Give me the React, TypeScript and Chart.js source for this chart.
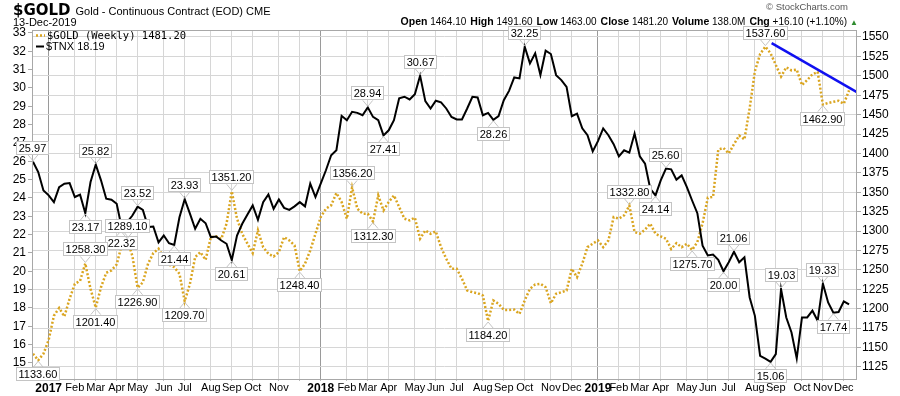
import React, { useEffect, useRef } from "react";
import { Chart, registerables } from "chart.js";
Chart.register(...registerables);

// Weekly closes, week 0 = 16-Dec-2016 ... week 156 = 13-Dec-2019
const tnx: number[] = [
  25.97, 25.41, 24.41, 24.14, 23.77, 24.59, 24.78, 24.81, 24.05, 24.18,
  23.17, 24.87, 25.82, 24.96, 23.96, 23.90, 23.68, 22.32, 22.68, 23.04,
  23.52, 23.35, 22.41, 22.44, 21.58, 21.95, 21.53, 21.44, 22.95, 23.93,
  23.14, 22.32, 22.86, 22.62, 21.86, 21.90, 21.68, 21.50, 20.61, 21.95,
  22.59, 23.10, 23.59, 22.81, 23.77, 24.19, 23.41, 23.92, 23.46, 23.35,
  23.54, 23.77, 23.54, 24.78, 24.05, 24.78, 25.51, 26.33, 26.60, 28.48,
  28.24, 28.70, 28.64, 28.51, 28.94, 28.42, 28.24, 27.41, 27.69, 28.24,
  29.43, 29.52, 29.37, 29.66, 30.67, 29.28, 28.88, 29.30, 29.21, 28.88,
  28.42, 28.28, 28.28, 28.88, 29.52, 29.48, 28.51, 28.64, 28.26, 28.46,
  29.33, 29.84, 30.57, 30.52, 32.25, 31.34, 31.89, 30.70, 32.03, 31.85,
  30.70, 30.43, 30.06, 28.46, 28.60, 27.80, 27.42, 26.54, 27.10, 27.79,
  27.42, 26.93, 26.27, 26.60, 26.47, 27.51, 26.27, 25.87, 24.50, 24.14,
  24.96, 25.60, 25.56, 25.00, 25.23, 24.59, 23.86, 23.17, 21.40, 20.86,
  20.91, 20.62, 20.00, 20.49, 21.06, 20.49, 20.76, 18.57, 17.57, 15.39,
  15.24, 15.06, 15.48, 19.03, 17.48, 16.66, 15.25, 17.48, 17.48, 17.85,
  17.30, 19.33, 18.30, 17.74, 17.78, 18.36, 18.19,
];

const gold: number[] = [
  1142, 1133.6, 1142, 1160, 1191, 1201, 1190, 1213, 1232, 1236,
  1258.3, 1225.6, 1201.4, 1227.7, 1246.3, 1249.3, 1257, 1283, 1289.1, 1268,
  1226.9, 1234, 1258, 1271.6, 1277.3, 1266.5, 1256.6, 1253.5, 1245, 1209.7,
  1232, 1266.5, 1272.9, 1263, 1292.3, 1293.2, 1290, 1309.5, 1351.2, 1316,
  1296.6, 1283.7, 1271.6, 1300.9, 1279.3, 1270.8, 1267.3, 1272.9, 1292.3, 1288,
  1281.5, 1248.4, 1258, 1275, 1296.6, 1318, 1328.9, 1333.2, 1349, 1337.4,
  1316, 1356.2, 1328.9, 1322.4, 1322.4, 1312.3, 1346, 1326.7, 1337.4, 1346,
  1331, 1316, 1313.8, 1317.3, 1290.2, 1300.9, 1296.6, 1299.6, 1279.3, 1264.4,
  1251.5, 1251.5, 1238.6, 1223.5, 1221.3, 1220, 1217, 1184.2, 1210.6, 1206.3,
  1198.5, 1198.5, 1198.9, 1193.4, 1210.6, 1225.7, 1231.2, 1232.1, 1227.7, 1207,
  1219.2, 1221.3, 1223.5, 1251.5, 1240.6, 1258, 1279.3, 1283.7, 1288, 1279.3,
  1288, 1318, 1316, 1320.3, 1332.8, 1298.7, 1296.6, 1301.8, 1309.5, 1296.6,
  1293.2, 1290.2, 1277, 1284.5, 1279.3, 1283.7, 1275.7, 1285.8, 1310, 1343,
  1344, 1405, 1407, 1400, 1412, 1423, 1418, 1458, 1506, 1528,
  1537.6, 1529, 1514, 1499, 1511, 1507, 1508, 1488, 1494.5, 1502,
  1505, 1462.9, 1465, 1466.5, 1467.8, 1464, 1481.2,
];

// first full weekly bar of each month (week index) and its axis label
const monthWeekIdx: number[] = [
  3, 8, 12, 16, 20, 25, 29, 34, 38, 42, 47, 51,
  55, 60, 64, 68, 73, 77, 81, 86, 90, 94, 99, 103,
  108, 112, 116, 120, 125, 129, 133, 138, 142, 147, 151, 155,
];
const monthLabels: string[] = [
  "2017", "Feb", "Mar", "Apr", "May", "Jun", "Jul", "Aug", "Sep", "Oct", "Nov", "",
  "2018", "Feb", "Mar", "Apr", "May", "Jun", "Jul", "Aug", "Sep", "Oct", "Nov", "Dec",
  "2019", "Feb", "Mar", "Apr", "May", "Jun", "Jul", "Aug", "Sep", "Oct", "Nov", "Dec",
];

// blue trend line (week index, gold price)
const trendWeek: number[] = [141.2, 157.5];
const trendGold: number[] = [1542, 1479];

// annotated points (week index), above / below
const tnxUp: number[] = [0, 12, 20, 29, 64, 74, 94, 121, 134, 143, 151];
const tnxDown: number[] = [10, 17, 27, 38, 67, 88, 119, 132, 141, 153];
const goldUp: number[] = [10, 18, 38, 61, 114, 140];
const goldDown: number[] = [1, 12, 20, 29, 51, 65, 87, 126, 151];

const quoteLabels: string[] = ["Open", "High", "Low", "Close", "Volume", "Chg"];
const quoteValues: string[] = ["1464.10", "1491.60", "1463.00", "1481.20", "138.0M", "+16.10 (+1.10%)"];

const GOLD_COLOR = "#DAA520";
const FONT = "'Liberation Sans', Arial, sans-serif";
const isYear = (s: string) => /^\d{4}$/.test(s);

const overlayPlugin = {
  id: "overlay",
  afterDatasetsDraw(chart: any) {
    const { ctx, chartArea: a, scales } = chart;
    ctx.save();
    // plot frame
    ctx.strokeStyle = "#a8a8a8";
    ctx.lineWidth = 1;
    ctx.setLineDash([]);
    ctx.strokeRect(Math.round(a.left) + 0.5, Math.round(a.top) + 0.5, Math.round(a.right - a.left) - 1, Math.round(a.bottom - a.top) - 1);

    // legend
    ctx.strokeStyle = GOLD_COLOR;
    ctx.lineWidth = 2.5;
    ctx.setLineDash([2, 2]);
    ctx.beginPath();
    ctx.moveTo(36, 35.5);
    ctx.lineTo(45, 35.5);
    ctx.stroke();
    ctx.setLineDash([]);
    ctx.strokeStyle = "#000";
    ctx.lineWidth = 2;
    ctx.beginPath();
    ctx.moveTo(36, 46.5);
    ctx.lineTo(44, 46.5);
    ctx.stroke();
    ctx.fillStyle = "#000";
    ctx.textBaseline = "middle";
    ctx.textAlign = "left";
    ctx.font = "10.5px 'DejaVu Sans Mono', monospace";
    ctx.fillText(`$GOLD (Weekly) ${gold[gold.length - 1].toFixed(2)}`, 47, 36);
    ctx.font = `11px ${FONT}`;
    ctx.fillText(`$TNX ${tnx[tnx.length - 1].toFixed(2)}`, 46, 47);

    // value call-outs
    const draw = (arr: number[], scale: any, idx: number, up: boolean) => {
      const v = arr[idx];
      const px = scales.x.getPixelForValue(idx);
      const py = scale.getPixelForValue(v);
      const text = v.toFixed(2);
      ctx.font = `11px ${FONT}`;
      const w = Math.round(ctx.measureText(text).width + 5);
      const h = 14;
      const gap = 7;
      const bx = Math.round(px - w / 2);
      const by = Math.round(up ? py - gap - h : py + gap);
      ctx.strokeStyle = "#c4c4c4";
      ctx.lineWidth = 1;
      ctx.beginPath();
      if (up) {
        ctx.moveTo(px - 5, py - gap);
        ctx.lineTo(px, py - 1);
        ctx.lineTo(px + 5, py - gap);
      } else {
        ctx.moveTo(px - 5, py + gap);
        ctx.lineTo(px, py + 1);
        ctx.lineTo(px + 5, py + gap);
      }
      ctx.stroke();
      ctx.fillStyle = "#fff";
      ctx.fillRect(bx, by, w, h);
      ctx.strokeRect(bx + 0.5, by + 0.5, w - 1, h - 1);
      ctx.fillStyle = "#000";
      ctx.textAlign = "center";
      ctx.textBaseline = "middle";
      ctx.fillText(text, bx + w / 2, by + h / 2 + 0.5);
    };
    tnxUp.forEach((i) => draw(tnx, scales.yL, i, true));
    tnxDown.forEach((i) => draw(tnx, scales.yL, i, false));
    goldUp.forEach((i) => draw(gold, scales.yR, i, true));
    goldDown.forEach((i) => draw(gold, scales.yR, i, false));
    ctx.restore();
  },
};

export default function App() {
  const ref = useRef<HTMLCanvasElement | null>(null);

  useEffect(() => {
    if (!ref.current) return;
    const chart = new Chart(ref.current, {
      type: "line",
      data: {
        datasets: [
          {
            label: "trend",
            data: trendWeek.map((x, k) => ({ x, y: trendGold[k] })),
            yAxisID: "yR",
            borderColor: "#1010f0",
            borderWidth: 2.5,
            pointRadius: 0,
            order: 0,
          },
          {
            label: "$TNX",
            data: tnx.map((y, x) => ({ x, y })),
            yAxisID: "yL",
            borderColor: "#000",
            borderWidth: 2,
            pointRadius: 0,
            tension: 0,
            order: 1,
          },
          {
            label: "$GOLD",
            data: gold.map((y, x) => ({ x, y })),
            yAxisID: "yR",
            borderColor: GOLD_COLOR,
            borderWidth: 2.5,
            borderDash: [2, 2],
            borderCapStyle: "butt",
            pointRadius: 0,
            tension: 0,
            order: 2,
          },
        ],
      },
      options: {
        animation: false,
        responsive: false,
        devicePixelRatio: 1,
        layout: { padding: { top: 30, left: 0, right: 0, bottom: 0 } },
        plugins: { legend: { display: false }, tooltip: { enabled: false } },
        scales: {
          x: {
            type: "linear",
            min: -0.19,
            max: 157.52,
            afterBuildTicks: (scale: any) => {
              scale.ticks = monthWeekIdx.map((v) => ({ value: v }));
            },
            afterFit: (scale: any) => {
              scale.height = 16;
            },
            border: { display: false },
            grid: {
              color: (c: any) => {
                const k = c.tick ? monthWeekIdx.indexOf(c.tick.value) : -1;
                return k >= 0 && isYear(monthLabels[k]) ? "#9a9a9a" : "#d6d6d6";
              },
              tickLength: 1,
              tickColor: "#bbbbbb",
            },
            ticks: {
              autoSkip: false,
              maxRotation: 0,
              padding: 0,
              color: "#000",
              font: (c: any) => {
                const lab = monthLabels[c.index] || "";
                return isYear(lab)
                  ? { family: FONT, size: 12, weight: "bold" }
                  : { family: FONT, size: 11, weight: "normal" };
              },
              callback: (_v: any, i: number) => monthLabels[i],
            },
          },
          yL: {
            type: "linear",
            position: "left",
            min: 14.07,
            max: 33.16,
            afterFit: (scale: any) => {
              scale.width = 32;
            },
            border: { display: false },
            grid: { drawOnChartArea: false, drawTicks: true, tickLength: 4, color: "#aaaaaa" },
            ticks: {
              stepSize: 1,
              includeBounds: false,
              padding: 2,
              color: "#000",
              font: { family: FONT, size: 12 },
              callback: (v: any) => String(v),
            },
          },
          yR: {
            type: "linear",
            position: "right",
            min: 1108.2,
            max: 1559,
            afterFit: (scale: any) => {
              scale.width = 43;
            },
            border: { display: false },
            grid: { drawOnChartArea: true, drawTicks: true, tickLength: 4, color: "#d6d6d6", tickColor: "#aaaaaa" },
            ticks: {
              stepSize: 25,
              includeBounds: false,
              padding: 1,
              color: "#000",
              font: { family: FONT, size: 12 },
              callback: (v: any) => String(v),
            },
          },
        },
      },
      plugins: [overlayPlugin],
    } as any);
    return () => chart.destroy();
  }, []);

  return (
    <div style={{ position: "fixed", left: 0, top: 0, width: 900, height: 396, background: "#fff", fontFamily: FONT, color: "#000" }}>
      <canvas ref={ref} width={900} height={396} style={{ position: "absolute", left: 0, top: 0, width: 900, height: 396 }} />
      <div style={{ position: "absolute", left: 13, top: 1, whiteSpace: "nowrap", lineHeight: "17px" }}>
        <span style={{ fontFamily: "'DejaVu Sans', Verdana, sans-serif", fontWeight: "bold", fontSize: 15 }}>$GOLD</span>
        <span style={{ fontSize: 11, marginLeft: 5 }}>Gold - Continuous Contract (EOD) CME</span>
      </div>
      <div style={{ position: "absolute", left: 13, top: 16, fontSize: 11, lineHeight: "13px" }}>13-Dec-2019</div>
      <div style={{ position: "absolute", right: 52, top: 1, fontSize: 9.5, color: "#555", lineHeight: "12px" }}>© StockCharts.com</div>
      <div style={{ position: "absolute", right: 42, top: 14, fontSize: 10, whiteSpace: "nowrap", lineHeight: "14px" }}>
        {quoteLabels.map((l, k) => (
          <span key={l} style={{ marginRight: k < quoteLabels.length - 1 ? 4 : 0 }}>
            <b style={{ fontSize: 10.5 }}>{l}</b> {quoteValues[k]}
          </span>
        ))}
        <span style={{ color: "#2e8b2e", fontSize: 8, marginLeft: 3 }}>▲</span>
      </div>
    </div>
  );
}
